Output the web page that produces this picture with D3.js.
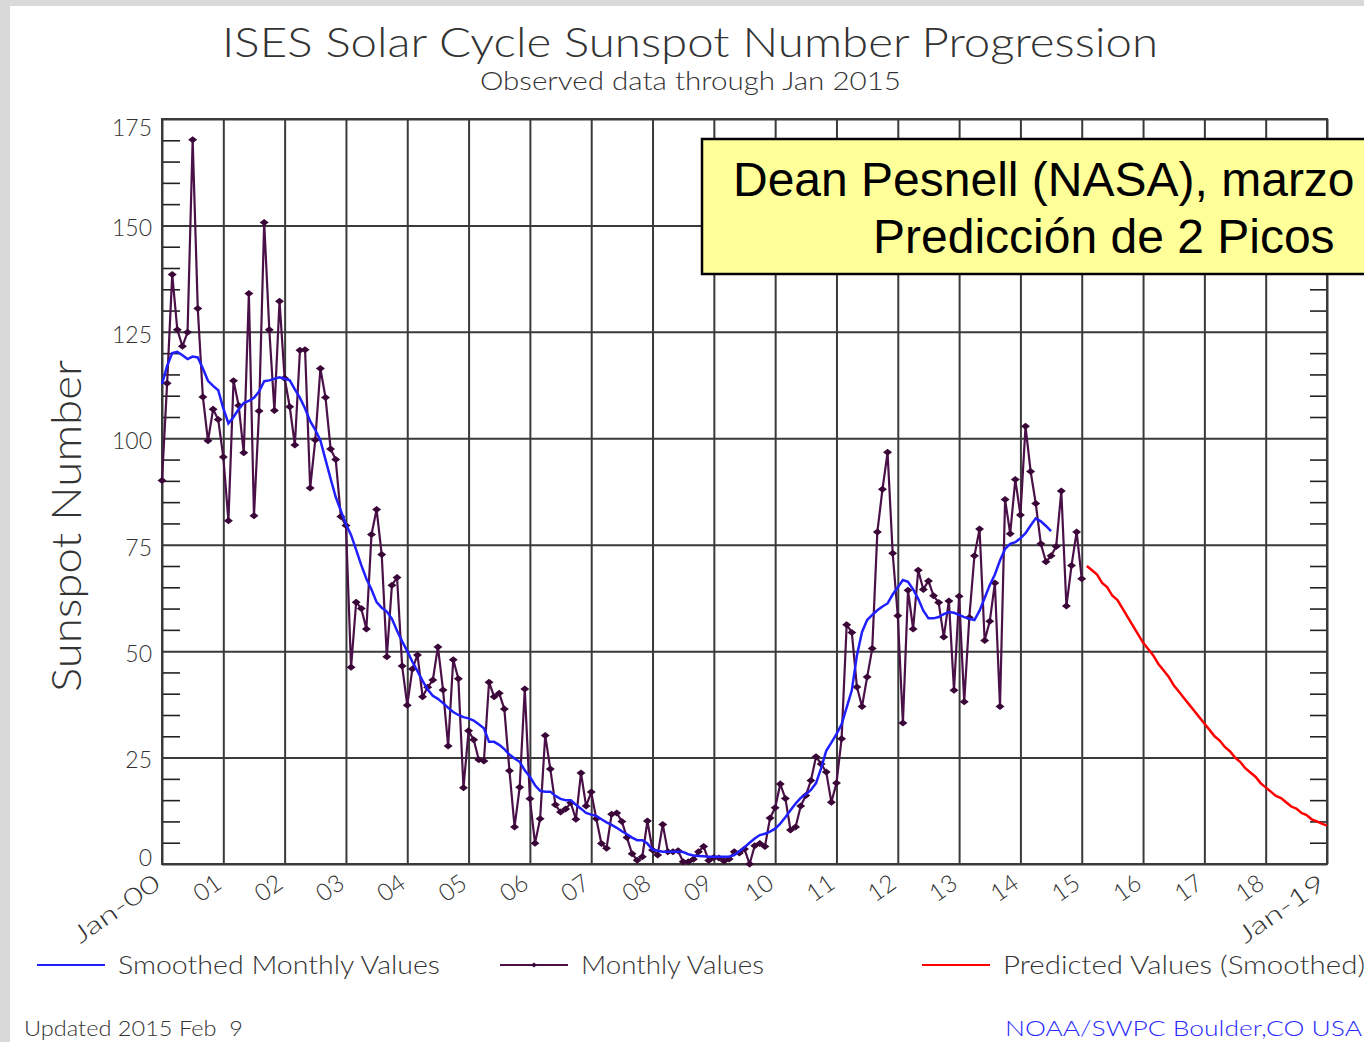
<!DOCTYPE html>
<html>
<head>
<meta charset="utf-8">
<script src="https://cdn.jsdelivr.net/npm/d3@7"></script>
<style>
body{margin:0;background:#fff;}
svg{display:block;}
text{font-family:Lato,"DejaVu Sans",sans-serif;font-weight:300;fill:#333;}
</style>
</head>
<body>
<svg id="chart" width="1364" height="1042"></svg>
<script>
// tick labels
var yearLabels = ["Jan-00","01","02","03","04","05","06","07","08","09","10",
                  "11","12","13","14","15","16","17","18","Jan-19"];
var yTicks = [0,25,50,75,100,125,150,175];

// monthly values, Jan 2000 .. Jan 2015
var monthlyValues = [
  90.1,112.9,138.5,125.5,121.6,124.9,170.1,130.5,109.7,99.4,106.8,104.4,
  95.6,80.6,113.5,107.7,96.6,134.0,81.8,106.4,150.7,125.5,106.5,132.2,
  114.1,107.4,98.4,120.7,120.8,88.3,99.6,116.4,109.6,97.5,95.0,81.6,
  79.5,46.2,61.5,60.0,55.2,77.4,83.3,72.7,48.7,65.5,67.3,46.5,
  37.3,45.8,49.1,39.3,41.5,43.2,51.0,40.9,27.7,48.0,43.5,17.9,
  31.3,29.2,24.5,24.2,42.7,39.3,40.1,36.4,21.9,8.7,18.0,41.1,
  15.3,4.9,10.6,30.2,22.3,13.9,12.2,12.9,14.4,10.5,21.4,13.6,
  16.9,10.6,4.8,3.7,11.7,12.0,10.0,6.2,2.4,0.9,1.7,10.1,
  3.3,2.1,9.3,2.9,2.9,3.1,0.5,0.5,1.1,2.9,4.1,0.8,
  1.5,1.4,0.7,1.2,2.9,2.6,3.5,0.0,4.3,4.8,4.1,10.8,
  13.2,18.8,15.4,8.0,8.7,13.6,16.1,19.6,25.2,23.5,21.6,14.5,
  19.0,29.4,56.2,54.4,41.6,37.0,43.9,50.6,78.0,88.0,96.7,73.0,
  58.3,33.1,64.3,55.2,69.0,64.5,66.5,63.0,61.4,53.3,61.8,40.8,
  62.9,38.1,57.9,72.4,78.7,52.5,57.0,66.0,37.0,85.6,77.6,90.3,
  82.0,102.8,92.2,84.7,75.2,71.0,72.4,74.6,87.6,60.6,70.1,78.0,
  67.0
];

// smoothed monthly values, Jan 2000 .. Jul 2014
var smoothedValues = [
  112.7,117,120,120.3,119.5,118.6,119.2,119,116.4,113.5,112.3,111.3,
  107,103.5,105,106.8,108.3,108.8,109.5,111,113.4,113.6,114,114.3,
  114,113.6,111.5,109.5,107,104,102,99.5,95,90.5,86.2,83,
  79.8,77.3,73.8,70.2,67,64.5,61.5,60.2,59.3,57.6,54.8,52.3,
  50,47.5,45.3,43,41,39.5,38.8,37.8,36.7,35.7,35,34.5,
  34.2,33.7,32.8,31.9,28.7,28.7,28,27,25.7,24.8,24,22,
  20.5,18.5,17.2,17,17,16,15.3,15,15,13.9,13,12,
  11.6,11.3,10.5,9.8,9.2,8.5,7.7,7,6.2,5.6,5.6,4.8,
  3.4,3.1,2.9,2.9,2.9,2.9,2.8,2.3,2,1.9,1.8,1.7,
  1.7,1.7,1.7,1.7,2.1,3,3.9,5,6,6.8,7.1,7.6,
  8.3,9.5,11,12.6,14.2,15.5,16.4,17.4,19,22.5,26.6,28.5,
  30.5,32.8,36.8,40.8,49,54.5,57.3,58.5,59.6,60.5,61.2,63.3,
  65,66.7,66.3,64.5,62.3,59.5,57.7,57.7,58,58.7,59.2,59,
  58.5,58,57.6,57.3,59.5,62.5,65.5,68,71.3,74,75.2,75.6,
  76.5,77.7,79.5,81.2,80.5,79.4,78.2
];

// predicted smoothed values, Feb 2015 .. Jan 2019
var predictedValues = [
  70,69,68,66,65,63,62,60,58,56,54,
  52,50.5,49,47,45.5,44,42,40.5,39,37.5,36,34.5,
  33,31.5,30,29,27.5,26.5,25,24,22.5,21.5,20.5,19,
  18,17,16,15.5,14.5,13.5,13,12,11.5,10.5,10,9.5,
  9
];

var svg = d3.select("#chart");
var plot = {left:162, right:1327, top:119, bottom:864};

var x = d3.scaleLinear().domain([2000,2019]).range([plot.left,plot.right]);
var y = d3.scaleLinear().domain([0,175]).range([plot.bottom,plot.top]);

var monthX = function(start){
    return function(d,i){ return x(start+i/12); };
};

// page frame
svg.append("rect").attr("width",1364).attr("height",1042).attr("fill","#fff");
svg.append("rect").attr("width",1364).attr("height",6).attr("fill","#d9d9d9");
svg.append("rect").attr("width",10).attr("height",1042).attr("fill","#d9d9d9");

// titles
svg.append("text")
    .text("ISES Solar Cycle Sunspot Number Progression")
    .attr("x",222).attr("y",57)
    .attr("font-size",41)
    .attr("textLength",936).attr("lengthAdjust","spacingAndGlyphs");
svg.append("text")
    .text("Observed data through Jan 2015")
    .attr("x",480).attr("y",90)
    .attr("font-size",25)
    .attr("textLength",421).attr("lengthAdjust","spacingAndGlyphs");
svg.append("text")
    .text("Sunspot Number")
    .attr("font-size",42)
    .attr("text-anchor","middle")
    .attr("transform","translate(81,526) rotate(-90)")
    .attr("textLength",332).attr("lengthAdjust","spacingAndGlyphs");

// vertical grid + x labels
var xAxis = d3.axisBottom(x)
    .tickValues(d3.range(2000,2020))
    .tickSize(-(plot.bottom-plot.top))
    .tickFormat(function(d,i){ return yearLabels[i]; });
var gx = svg.append("g")
    .attr("transform","translate(0,"+plot.bottom+")")
    .call(xAxis);
gx.select(".domain").remove();
gx.selectAll("line").attr("stroke","#3a3a3a").attr("stroke-width",2);
gx.selectAll("text")
    .attr("x",0).attr("y",0).attr("dy","0.7em")
    .attr("text-anchor","end")
    .attr("font-size",24)
    .attr("font-family","Lato,'DejaVu Sans',sans-serif")
    .attr("transform","translate(-10,9) rotate(-35)")
    .each(function(d,i){
        if (yearLabels[i].length > 2) {
            d3.select(this).attr("textLength",100).attr("lengthAdjust","spacingAndGlyphs");
        }
    });

// horizontal grid + y labels
var yAxis = d3.axisLeft(y)
    .tickValues(yTicks)
    .tickSize(-(plot.right-plot.left))
    .tickPadding(10);
var gy = svg.append("g")
    .attr("transform","translate("+plot.left+",0)")
    .call(yAxis);
gy.select(".domain").remove();
gy.selectAll("line").attr("stroke","#3a3a3a").attr("stroke-width",2);
gy.selectAll("text")
    .attr("font-size",23)
    .attr("font-family","Lato,'DejaVu Sans',sans-serif")
    .attr("dy",function(d){ return d==175 ? "0.72em" : (d==0 ? "0.05em" : "0.45em"); });

// minor ticks on both sides
var minor = d3.range(5,175,5).filter(function(v){ return v%25!=0; });
var gmL = svg.append("g")
    .attr("transform","translate("+plot.left+",0)")
    .call(d3.axisLeft(y).tickValues(minor).tickSize(-18).tickFormat(""));
var gmR = svg.append("g")
    .attr("transform","translate("+plot.right+",0)")
    .call(d3.axisRight(y).tickValues(minor).tickSize(-17).tickFormat(""));
[gmL,gmR].forEach(function(g){
    g.select(".domain").remove();
    g.selectAll("line").attr("stroke","#222").attr("stroke-width",1.6);
});

// plot border
svg.append("rect")
    .attr("x",plot.left).attr("y",plot.top)
    .attr("width",plot.right-plot.left).attr("height",plot.bottom-plot.top)
    .attr("fill","none").attr("stroke","#3a3a3a").attr("stroke-width",2);

// data lines
var monthlyLine = d3.line().x(monthX(2000)).y(function(d){ return y(d); });
var predLine = d3.line().x(monthX(2000+181/12)).y(function(d){ return y(d); });

svg.append("path").datum(monthlyValues)
    .attr("d",monthlyLine)
    .attr("fill","none").attr("stroke","#4a1048").attr("stroke-width",2.2);

var diamond = "M-4.5,0L0,-3.5L4.5,0L0,3.5Z";
svg.append("g").selectAll("path")
    .data(monthlyValues)
    .enter()
    .append("path")
    .attr("d",diamond)
    .attr("fill","#3a0638")
    .attr("transform",function(d,i){ return "translate("+x(2000+i/12)+","+y(d)+")"; });

svg.append("path").datum(smoothedValues)
    .attr("d",monthlyLine)
    .attr("fill","none").attr("stroke","#1f1fff").attr("stroke-width",2.5);

svg.append("path").datum(predictedValues)
    .attr("d",predLine)
    .attr("fill","none").attr("stroke","#ff0000").attr("stroke-width",2.5);

// yellow note box
svg.append("rect")
    .attr("x",702).attr("y",139).attr("width",720).attr("height",135)
    .attr("fill","#ffff99").attr("stroke","#000").attr("stroke-width",2.5);
svg.append("text")
    .text("Dean Pesnell (NASA), marzo")
    .attr("x",733).attr("y",196)
    .style("font-family","'Liberation Sans',Arial,sans-serif")
    .style("font-weight","400").style("fill","#000")
    .attr("font-size",48);
svg.append("text")
    .text("Predicción de 2 Picos")
    .attr("x",873).attr("y",253)
    .style("font-family","'Liberation Sans',Arial,sans-serif")
    .style("font-weight","400").style("fill","#000")
    .attr("font-size",48);

// legend
var legend = [
    {name:"Smoothed Monthly Values", color:"#1f1fff", x:37, len:322, dot:false},
    {name:"Monthly Values", color:"#4a1048", x:500, len:183, dot:true},
    {name:"Predicted Values (Smoothed)", color:"#ff0000", x:922, len:362, dot:false}
];
var entries = svg.append("g").selectAll("g")
    .data(legend)
    .enter()
    .append("g")
    .attr("transform",function(d){ return "translate("+d.x+",965)"; });
entries.append("line")
    .attr("x1",0).attr("x2",68).attr("y1",0).attr("y2",0)
    .attr("stroke",function(d){ return d.color; }).attr("stroke-width",2);
entries.filter(function(d){ return d.dot; })
    .append("path").attr("d","M-3,0L0,-2.5L3,0L0,2.5Z")
    .attr("transform","translate(34,0)").attr("fill","#3a0638");
entries.append("text")
    .text(function(d){ return d.name; })
    .attr("x",81).attr("y",9)
    .attr("font-size",25)
    .attr("textLength",function(d){ return d.len; })
    .attr("lengthAdjust","spacingAndGlyphs");

// footer
svg.append("text")
    .text("Updated 2015 Feb  9")
    .attr("x",24).attr("y",1036)
    .attr("font-size",22)
    .style("white-space","pre")
    .attr("textLength",219).attr("lengthAdjust","spacingAndGlyphs");
svg.append("text")
    .text("NOAA/SWPC Boulder,CO USA")
    .attr("x",1005).attr("y",1036)
    .attr("font-size",22)
    .style("fill","#2a2aff")
    .attr("textLength",357).attr("lengthAdjust","spacingAndGlyphs");
</script>
</body>
</html>
